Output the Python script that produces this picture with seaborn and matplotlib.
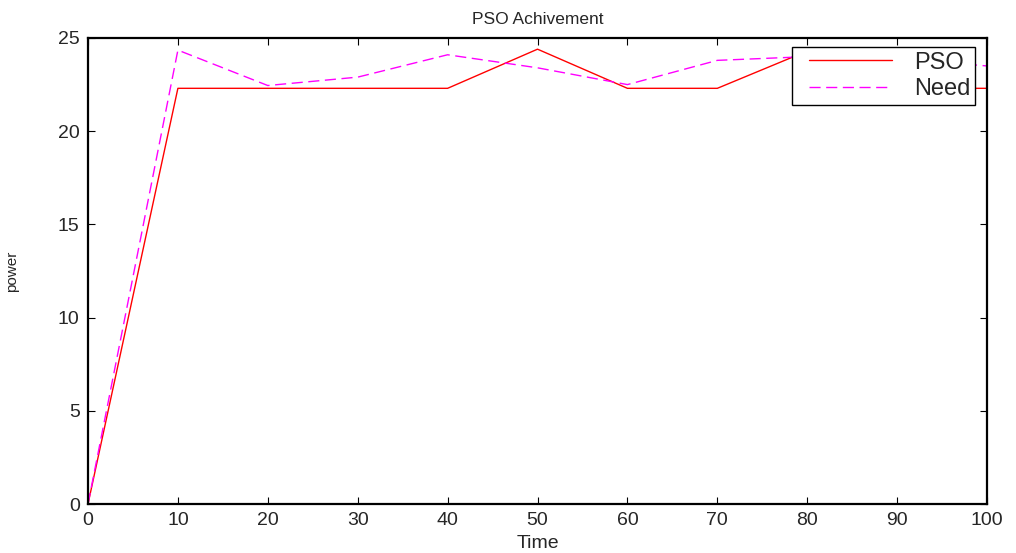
import matplotlib
matplotlib.use("Agg")
import matplotlib.pyplot as plt
import seaborn as sns
import pandas as pd
from matplotlib.lines import Line2D
from matplotlib.legend_handler import HandlerLine2D

time = [0, 10, 20, 30, 40, 50, 60, 70, 80, 90, 100]
pso = [0, 22.3, 22.3, 22.3, 22.3, 24.4, 22.3, 22.3, 24.3, 22.3, 22.3]
need = [0, 24.35, 22.45, 22.9, 24.1, 23.4, 22.5, 23.8, 24.0, 23.9, 23.5]

sns.set_theme(style="white")
plt.rcParams['font.family'] = ['Liberation Sans', 'DejaVu Sans']

df = pd.DataFrame({"Time": time, "PSO": pso, "Need": need})
long = df.melt(id_vars="Time", var_name="series", value_name="power")

fig = plt.figure(figsize=(10.16, 5.53), dpi=100)
ax = fig.add_axes([0.0866, 0.0886, 0.8849, 0.8427])

sns.lineplot(data=long, x="Time", y="power", hue="series", style="series",
             palette={"PSO": "#ff0000", "Need": "#ff00ff"},
             dashes={"PSO": "", "Need": (8, 4)}, linewidth=1.0, ax=ax, legend=False)

ax.set_xlim(0, 100)
ax.set_ylim(0, 25)
ax.set_xticks(range(0, 101, 10))
ax.set_yticks(range(0, 26, 5))
ax.tick_params(direction="in", length=5, width=0.8, top=True, right=True,
               bottom=True, left=True, labelsize=14, color="black", pad=6)
for s in ax.spines.values():
    s.set_color("black")
    s.set_linewidth(1.6)
ax.set_title("PSO Achivement", fontsize=12.5, pad=10)
ax.set_xlabel("Time", fontsize=14, labelpad=4)
ax.set_ylabel("power", fontsize=11, labelpad=28)

handles = [Line2D([], [], color="#ff0000", lw=1.0),
           Line2D([], [], color="#ff00ff", lw=1.0, dashes=(8, 4))]
leg = ax.legend(handles, ["PSO", "Need"], loc="upper right",
                bbox_to_anchor=(0.9867, 0.981), fontsize=17, frameon=True,
                fancybox=False, handlelength=4.0, borderpad=0.2,
                labelspacing=0.2, handletextpad=0.95, borderaxespad=0,
                handler_map={Line2D: HandlerLine2D(xpad=0.5)})
leg.get_frame().set_edgecolor("black")
leg.get_frame().set_linewidth(1.0)
leg.get_frame().set_alpha(1)

fig.savefig("out.png", dpi=100)
